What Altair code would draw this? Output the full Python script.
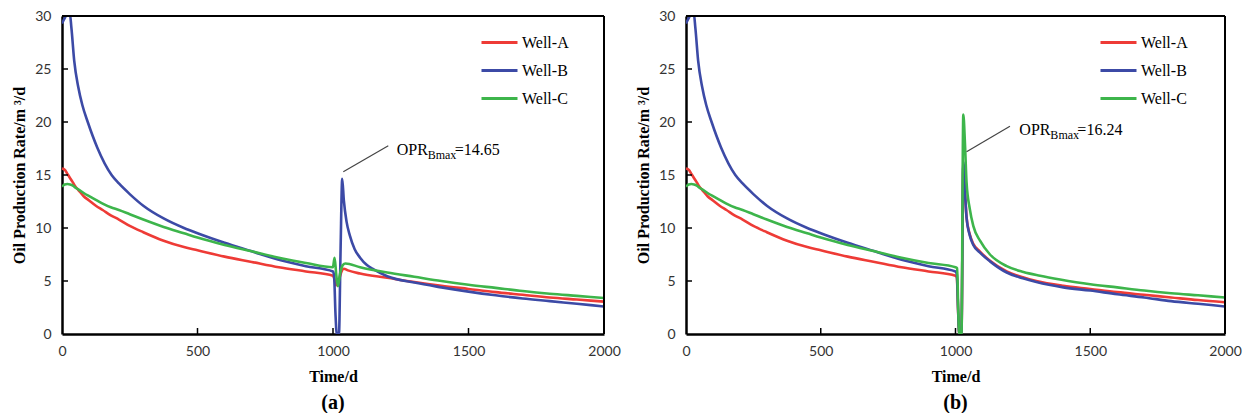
import altair as alt
import pandas as pd

SERIES = ["Well-A", "Well-B", "Well-C"]
COLORS = ["#ee3b36", "#3c4aa6", "#3db54b"]

# ---- common part before the event (both panels) ----
T_EARLY_A = [0, 10, 20, 30, 40, 50, 60, 80, 100, 125, 150, 180, 210, 250, 300, 375, 450, 500, 600, 700, 800, 900, 1000]
V_EARLY_A = [15.6, 15.5, 15.1, 14.7, 14.3, 13.9, 13.6, 13.0, 12.6, 12.1, 11.7, 11.2, 10.8, 10.2, 9.6, 8.8, 8.2, 7.9, 7.3, 6.8, 6.3, 5.9, 5.5]

T_EARLY_B = [0, 10, 20, 28, 35, 45, 60, 75, 95, 130, 183, 210, 250, 300, 375, 450, 500, 600, 700, 800, 900, 1000]
V_EARLY_B = [29.3, 29.8, 30.3, 30.4, 28.8, 25.8, 23.3, 21.6, 20.0, 17.6, 15.0, 14.2, 13.2, 12.1, 10.9, 10.0, 9.5, 8.6, 7.8, 7.0, 6.4, 5.9]

T_EARLY_C = [0, 10, 20, 30, 40, 50, 60, 80, 100, 125, 150, 180, 210, 250, 300, 375, 450, 500, 600, 700, 800, 900, 1000]
V_EARLY_C = [13.9, 14.1, 14.15, 14.1, 14.0, 13.8, 13.65, 13.3, 13.0, 12.65, 12.3, 11.95, 11.7, 11.3, 10.8, 10.1, 9.5, 9.1, 8.4, 7.8, 7.2, 6.7, 6.3]

# ---- panel (a) after 1000 d ----
T_A_A = [1005, 1012, 1020, 1030, 1040, 1055, 1100, 1200, 1300, 1400, 1500, 1600, 1700, 1800, 1900, 2000]
V_A_A = [5.2, 4.6, 4.9, 5.8, 6.15, 6.0, 5.7, 5.3, 4.9, 4.55, 4.25, 3.95, 3.7, 3.45, 3.25, 3.05]

T_A_B = [1004, 1009, 1014, 1022, 1028, 1034, 1040, 1050, 1062, 1080, 1100, 1125, 1150, 1200, 1300, 1400, 1500, 1600, 1700, 1800, 1900, 2000]
V_A_B = [5.5, 2.0, 0.0, 0.0, 8.0, 14.65, 12.6, 10.6, 9.3, 8.0, 7.2, 6.5, 6.1, 5.45, 4.85, 4.4, 4.0, 3.65, 3.35, 3.1, 2.85, 2.6]

T_A_C = [1003, 1006, 1012, 1018, 1026, 1036, 1046, 1100, 1200, 1300, 1400, 1500, 1600, 1700, 1800, 1900, 2000]
V_A_C = [6.8, 7.2, 5.6, 4.5, 5.7, 6.5, 6.65, 6.3, 5.8, 5.4, 5.0, 4.65, 4.35, 4.05, 3.8, 3.6, 3.4]

# ---- panel (b) after 1000 d ----
T_B_A = [1005, 1010, 1014, 1022, 1029, 1035, 1041, 1053, 1066, 1090, 1128, 1190, 1250, 1300, 1400, 1500, 1600, 1700, 1800, 1900, 2000]
V_B_A = [5.3, 2.0, 0.0, 0.0, 16.0, 13.4, 11.0, 9.4, 8.5, 7.8, 6.9, 5.9, 5.35, 5.0, 4.55, 4.25, 3.95, 3.7, 3.45, 3.2, 3.0]

T_B_B = [1005, 1010, 1014, 1022, 1029, 1035, 1041, 1053, 1066, 1090, 1128, 1190, 1250, 1300, 1400, 1500, 1600, 1700, 1800, 1900, 2000]
V_B_B = [5.6, 2.0, 0.0, 0.0, 16.24, 13.5, 11.0, 9.3, 8.4, 7.7, 6.85, 5.8, 5.25, 4.9, 4.4, 4.1, 3.75, 3.45, 3.1, 2.85, 2.6]

T_B_C = [1006, 1010, 1014, 1022, 1029, 1035, 1041, 1053, 1066, 1091, 1128, 1190, 1252, 1314, 1388, 1500, 1600, 1700, 1800, 1900, 2000]
V_B_C = [6.2, 2.5, 0.0, 0.0, 20.7, 18.0, 14.3, 11.8, 10.2, 8.8, 7.5, 6.4, 5.85, 5.5, 5.15, 4.7, 4.4, 4.1, 3.85, 3.65, 3.45]

# ---- annotations ----
ANN_A_LINE_T = [1038, 1204]
ANN_A_LINE_V = [15.3, 17.75]
ANN_A_TEXT = (1235, 17.4, "14.65")
ANN_B_LINE_T = [1041, 1202]
ANN_B_LINE_V = [17.2, 19.6]
ANN_B_TEXT = (1237, 19.2, "16.24")

X_TICKS = [0, 500, 1000, 1500, 2000]
Y_TICKS = [0, 5, 10, 15, 20, 25, 30]
X_INNER = [500, 1000, 1500]
Y_INNER = [5, 10, 15, 20, 25]

SERIF = "Liberation Serif"
SANS = "Lato"
H = 318


def series_df(parts):
    rows = []
    for name, ts, vs in parts:
        for i, (t, v) in enumerate(zip(ts, vs)):
            rows.append({"well": name, "t": t, "v": v, "order": i})
    return pd.DataFrame(rows)


def panel(parts, line_t, line_v, text, label, width, legend_x):
    df = series_df(parts)
    xs = alt.Scale(domain=[0, 2000], nice=False, zero=False)
    ys = alt.Scale(domain=[0, 30], nice=False)
    xax = alt.Axis(values=X_TICKS, format="d", title="Time/d", grid=False, ticks=False,
                   labelFlush=False, labelPadding=10, titlePadding=10)
    yax = alt.Axis(values=Y_TICKS, format="d", title="Oil Production Rate/m \u00b3/d", grid=False,
                   ticks=False, labelFlush=False, labelPadding=11, titlePadding=7)
    one = pd.DataFrame({"k": [0]})
    top = alt.Chart(one).mark_rule(color="black", strokeWidth=2).encode(
        x=alt.value(0), x2=alt.value(width), y=alt.value(0))
    right = alt.Chart(one).mark_rule(color="black", strokeWidth=2).encode(
        x=alt.value(width), y=alt.value(0), y2=alt.value(H))
    lines = alt.Chart(df).mark_line(strokeWidth=2.6, interpolate="monotone", clip=True).encode(
        x=alt.X("t:Q", scale=xs, axis=xax),
        y=alt.Y("v:Q", scale=ys, axis=yax),
        color=alt.Color("well:N", scale=alt.Scale(domain=SERIES, range=COLORS),
                        legend=alt.Legend(orient="none", legendX=legend_x, legendY=7, title=None,
                                          symbolType="stroke", symbolSize=1296, symbolStrokeWidth=3,
                                          labelFont=SERIF, labelFontSize=16, labelColor="black",
                                          labelOffset=3, rowPadding=0)),
        detail="well:N",
        order="order:Q",
    )
    xt = alt.Chart(pd.DataFrame({"t": X_INNER})).mark_rule(color="black", strokeWidth=1.5).encode(
        x=alt.X("t:Q", scale=xs), y=alt.value(H), y2=alt.value(H - 6))
    yt = alt.Chart(pd.DataFrame({"v": Y_INNER})).mark_rule(color="black", strokeWidth=1.5).encode(
        y=alt.Y("v:Q", scale=ys), x=alt.value(0), x2=alt.value(6))
    ann = alt.Chart(pd.DataFrame({"t": line_t, "v": line_v})).mark_line(color="#444", strokeWidth=1.2).encode(
        x=alt.X("t:Q", scale=xs), y=alt.Y("v:Q", scale=ys))
    tdf = pd.DataFrame({"t": [text[0]], "v": [text[1]]})
    base = alt.Chart(tdf).encode(x=alt.X("t:Q", scale=xs), y=alt.Y("v:Q", scale=ys))
    t1 = base.mark_text(text="OPR", font=SERIF, fontSize=16, align="left", baseline="middle", color="black")
    t2 = base.mark_text(text="Bmax", font=SERIF, fontSize=12, align="left", baseline="middle", color="black",
                        dx=31, dy=5)
    t3 = base.mark_text(text="=" + text[2], font=SERIF, fontSize=16, align="left", baseline="middle",
                        color="black", dx=58)
    return alt.layer(lines, xt, yt, ann, t1, t2, t3, top, right).properties(
        width=width, height=H,
        title=alt.TitleParams(label, orient="bottom", font=SERIF, fontSize=20, fontWeight="bold",
                              color="black", offset=9, anchor="middle"),
    )


pa = panel([("Well-A", T_EARLY_A + T_A_A, V_EARLY_A + V_A_A),
            ("Well-B", T_EARLY_B + T_A_B, V_EARLY_B + V_A_B),
            ("Well-C", T_EARLY_C + T_A_C, V_EARLY_C + V_A_C)],
           ANN_A_LINE_T, ANN_A_LINE_V, ANN_A_TEXT, "(a)", 542, 418)
pb = panel([("Well-A", T_EARLY_A + T_B_A, V_EARLY_A + V_B_A),
            ("Well-B", T_EARLY_B + T_B_B, V_EARLY_B + V_B_B),
            ("Well-C", T_EARLY_C + T_B_C, V_EARLY_C + V_B_C)],
           ANN_B_LINE_T, ANN_B_LINE_V, ANN_B_TEXT, "(b)", 539, 413)

chart = alt.hconcat(pa, pb, spacing=14).resolve_legend(color="independent").properties(
    padding={"left": 11, "top": 9, "right": 2, "bottom": 0}, background="white"
).configure_view(strokeWidth=0).configure_axis(
    domainColor="black", domainWidth=2.5, labelFont=SANS, labelFontSize=14, labelColor="#333",
    titleFont=SERIF, titleFontSize=16, titleFontWeight="bold", titleColor="black"
)

chart.save("out.html", embed_options={"renderer": "svg", "actions": False})
